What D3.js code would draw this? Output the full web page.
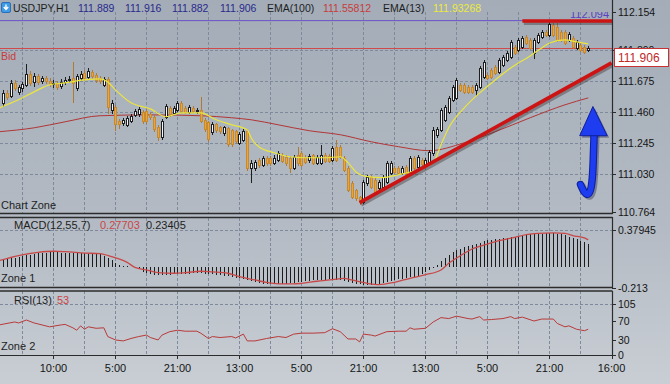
<!DOCTYPE html>
<html><head><meta charset="utf-8">
<script src="https://cdn.jsdelivr.net/npm/d3@7/dist/d3.min.js"></script>
<style>
html,body{margin:0;padding:0;background:#b8bfc7;}
svg{display:block;}
text{font-family:"Liberation Sans",Arial,Helvetica,sans-serif;}
</style></head><body>
<svg id="chart" width="670" height="384"></svg>
<script>
// ---------------- DATA ----------------
const symbol = "USDJPY,H1";
const headerOHLC = ["111.889","111.916","111.882","111.906"];
const ema100Label = "111.55812";
const ema13Label = "111.93268";
const macdLabels = ["0.27703","0.23405"];
const rsiLabel = "53";
const bidPrice = 111.906;
const highPrice = 112.094;

const opens = [111.523,111.592,111.571,111.661,111.599,111.627,111.648,111.724,111.668,111.710,
111.675,111.696,111.675,111.654,111.661,111.641,111.668,111.682,111.696,111.627,
111.696,111.731,111.703,111.738,111.717,111.696,111.648,111.689,111.474,111.495,
111.398,111.384,111.370,111.398,111.439,111.446,111.460,111.467,111.446,111.426,
111.356,111.287,111.426,111.488,111.453,111.474,111.523,111.488,111.460,111.488,
111.467,111.474,111.405,111.391,111.322,111.377,111.356,111.315,111.349,111.335,
111.329,111.245,111.266,111.329,111.072,111.072,111.127,111.093,111.141,111.141,
111.107,111.127,111.162,111.148,111.141,111.072,111.162,111.176,111.148,111.127,
111.162,111.107,111.107,111.162,111.155,111.127,111.218,111.218,111.141,111.072,
110.968,110.919,110.871,110.836,110.968,111.010,110.989,110.933,110.940,110.975,
111.037,111.072,111.072,111.037,111.079,111.044,111.141,111.079,111.127,111.093,
111.107,111.176,111.301,111.335,111.405,111.460,111.544,111.557,111.648,111.648,
111.634,111.634,111.613,111.634,111.703,111.717,111.752,111.772,111.738,111.786,
111.821,111.842,111.911,111.890,111.911,111.980,111.960,111.869,111.946,111.980,
112.015,111.994,112.064,112.050,112.015,112.015,111.960,111.974,111.904,111.925,
111.911,111.889];
const closes = [111.592,111.564,111.661,111.627,111.634,111.654,111.724,111.661,111.710,111.668,
111.696,111.675,111.654,111.661,111.634,111.668,111.682,111.689,111.661,111.710,
111.724,111.696,111.745,111.710,111.682,111.675,111.689,111.495,111.523,111.377,
111.377,111.405,111.419,111.433,111.467,111.481,111.398,111.398,111.426,111.342,
111.287,111.398,111.502,111.446,111.488,111.523,111.467,111.460,111.495,111.467,
111.474,111.398,111.342,111.273,111.377,111.335,111.329,111.356,111.238,111.238,
111.259,111.308,111.329,111.072,111.107,111.114,111.093,111.141,111.107,111.107,
111.141,111.176,111.121,111.107,111.072,111.148,111.107,111.093,111.114,111.155,
111.107,111.148,111.162,111.121,111.121,111.211,111.127,111.148,111.058,110.919,
110.871,110.864,110.836,110.975,111.010,110.940,110.905,110.975,111.010,111.107,
111.107,111.044,111.037,111.072,111.037,111.141,111.072,111.148,111.100,111.127,
111.183,111.335,111.342,111.474,111.495,111.557,111.634,111.682,111.613,111.599,
111.599,111.599,111.648,111.765,111.807,111.696,111.703,111.731,111.821,111.842,
111.869,111.946,111.869,111.960,111.974,111.939,111.904,111.960,111.994,112.015,
111.994,112.071,111.994,111.960,111.960,111.939,112.001,111.911,111.946,111.890,
111.876,111.906];
const highs = [111.613,111.613,111.682,111.682,111.648,111.668,111.793,111.745,111.731,111.724,
111.710,111.710,111.696,111.682,111.675,111.689,111.703,111.710,111.807,111.724,
111.745,111.752,111.765,111.752,111.731,111.710,111.703,111.703,111.544,111.509,
111.412,111.419,111.433,111.446,111.481,111.495,111.474,111.481,111.460,111.439,
111.370,111.412,111.516,111.502,111.502,111.537,111.537,111.502,111.509,111.502,
111.488,111.564,111.419,111.398,111.391,111.384,111.363,111.363,111.356,111.342,
111.335,111.322,111.342,111.342,111.127,111.127,111.141,111.155,111.155,111.155,
111.162,111.190,111.176,111.162,111.155,111.162,111.218,111.190,111.162,111.169,
111.169,111.162,111.231,111.176,111.169,111.225,111.266,111.231,111.155,111.086,
110.982,110.926,110.878,110.989,111.023,111.023,111.003,110.989,111.023,111.121,
111.121,111.086,111.086,111.086,111.093,111.155,111.155,111.162,111.141,111.141,
111.197,111.356,111.356,111.488,111.509,111.571,111.648,111.696,111.661,111.661,
111.648,111.648,111.661,111.779,111.821,111.731,111.765,111.786,111.835,111.856,
111.883,111.960,111.925,111.974,111.987,111.994,111.974,111.974,112.008,112.029,
112.029,112.091,112.078,112.078,112.029,112.029,112.015,111.987,111.960,111.939,
111.925,111.916];
const lows = [111.502,111.550,111.564,111.613,111.585,111.606,111.641,111.648,111.641,111.654,
111.661,111.661,111.641,111.634,111.620,111.627,111.654,111.668,111.530,111.613,
111.682,111.682,111.689,111.696,111.668,111.661,111.641,111.453,111.453,111.335,
111.349,111.370,111.363,111.391,111.433,111.433,111.384,111.384,111.412,111.329,
111.266,111.273,111.419,111.433,111.446,111.467,111.460,111.453,111.453,111.460,
111.453,111.391,111.329,111.259,111.308,111.322,111.315,111.301,111.225,111.225,
111.245,111.238,111.259,111.058,110.975,111.058,111.079,111.086,111.093,111.093,
111.100,111.121,111.114,111.093,111.044,111.065,111.093,111.086,111.107,111.114,
111.100,111.100,111.100,111.114,111.114,111.121,111.121,111.141,111.051,110.912,
110.864,110.850,110.822,110.829,110.954,110.933,110.899,110.926,110.933,110.968,
111.030,111.037,111.030,111.030,111.030,111.037,111.065,111.072,111.093,111.086,
111.100,111.162,111.287,111.329,111.398,111.453,111.537,111.550,111.606,111.592,
111.592,111.592,111.578,111.627,111.696,111.689,111.696,111.724,111.731,111.779,
111.814,111.835,111.863,111.883,111.904,111.932,111.897,111.835,111.939,111.974,
111.987,111.987,111.987,111.953,111.953,111.932,111.953,111.904,111.897,111.883,
111.869,111.882];

// sampled indicator readings: [bar, value]
const ema13 = [[-1,111.488],[4,111.544],[8,111.599],[12,111.648],[16,111.661],[21,111.682],[25,111.689],[27,111.668],[29,111.613],[33,111.523],
[38,111.481],[42,111.426],[46,111.453],[51,111.453],[55,111.405],[59,111.370],[63,111.335],[64,111.280],[66,111.218],[70,111.176],
[74,111.148],[78,111.141],[83,111.141],[87,111.148],[89,111.107],[91,111.044],[94,111.010],[98,111.003],[102,111.023],[107,111.058],
[111,111.107],[113,111.231],[115,111.349],[119,111.488],[123,111.592],[127,111.682],[131,111.765],[136,111.849],[139,111.904],[141,111.939],
[145,111.960],[148,111.946],[151,111.932]];
const ema100 = [[-1,111.322],[8,111.349],[16,111.391],[25,111.433],[38,111.439],[51,111.433],[59,111.419],[64,111.405],[71,111.370],[79,111.329],
[87,111.301],[95,111.252],[102,111.218],[110,111.190],[119,111.245],[127,111.322],[136,111.419],[145,111.509],[151,111.557]];

const macdHist = [0.075,0.082,0.09,0.098,0.105,0.112,0.12,0.128,0.134,0.14,
0.144,0.147,0.15,0.151,0.15,0.148,0.146,0.145,0.143,0.142,
0.141,0.14,0.139,0.137,0.135,0.133,0.118,0.09,0.07,0.04,
0.022,0.014,0.01,0.006,0.004,-0.02,-0.045,-0.06,-0.07,-0.075,
-0.08,-0.08,-0.078,-0.075,-0.072,-0.07,-0.068,-0.066,-0.064,-0.062,
-0.06,-0.062,-0.066,-0.07,-0.072,-0.074,-0.078,-0.085,-0.09,-0.098,
-0.105,-0.112,-0.12,-0.13,-0.14,-0.15,-0.158,-0.165,-0.168,-0.17,
-0.17,-0.17,-0.168,-0.165,-0.16,-0.155,-0.15,-0.145,-0.14,-0.137,
-0.133,-0.13,-0.127,-0.124,-0.121,-0.12,-0.125,-0.13,-0.14,-0.148,
-0.158,-0.165,-0.172,-0.176,-0.176,-0.174,-0.17,-0.165,-0.158,-0.15,
-0.142,-0.133,-0.122,-0.115,-0.108,-0.102,-0.095,-0.085,-0.07,-0.05,
-0.03,-0.01,0.025,0.06,0.095,0.125,0.15,0.172,0.188,0.2,
0.215,0.228,0.24,0.25,0.262,0.272,0.28,0.286,0.29,0.295,
0.3,0.305,0.31,0.318,0.325,0.33,0.333,0.336,0.338,0.34,
0.343,0.344,0.344,0.34,0.332,0.322,0.31,0.298,0.285,0.27,
0.255,0.234];
const macdSignal = [[-1,0.067],[4,0.118],[9,0.151],[13,0.162],[16,0.158],[21,0.144],[25,0.137],[28,0.107],[32,0.05],[34,0.0],
[37,-0.027],[40,-0.054],[44,-0.06],[47,-0.054],[51,-0.04],[54,-0.047],[58,-0.06],[61,-0.095],[65,-0.128],[68,-0.152],
[72,-0.168],[75,-0.168],[77,-0.162],[81,-0.141],[85,-0.125],[88,-0.111],[90,-0.128],[94,-0.162],[97,-0.175],[101,-0.152],
[105,-0.111],[109,-0.075],[113,-0.027],[115,0.04],[118,0.117],[121,0.185],[125,0.235],[128,0.269],[132,0.303],[135,0.33],
[138,0.343],[142,0.347],[145,0.343],[147,0.32],[150,0.296],[151,0.277]];
const rsi = [[-1,62],[1,65],[3,68],[4,66],[6,72],[8,66],[9,64],[12,58],[15,62],[16,63],[18,56],[19,51],[20,60],[21,53],[22,58],[24,55],[26,56],
[27,38],[29,31],[31,29],[33,34],[35,38],[37,41],[38,36],[40,31],[41,41],[43,48],[45,51],[47,49],[50,49],[51,45],[53,34],[54,38],[56,36],
[59,38],[60,35],[62,43],[63,29],[65,29],[68,34],[71,38],[73,36],[75,43],[77,45],[80,45],[83,46],[85,54],[87,48],[89,33],[91,33],[92,27],
[93,43],[95,41],[96,39],[99,48],[102,49],[104,49],[105,56],[106,53],[109,55],[111,68],[113,77],[115,75],[117,80],[120,75],[121,74],[123,79],
[124,72],[126,73],[129,75],[131,79],[132,75],[134,78],[137,70],[139,74],[142,74],[143,65],[145,58],[146,60],[148,53],[150,50],[151,53]];

const priceTicks = [112.154,111.890,111.675,111.460,111.245,111.030,110.764];
const macdTicks = [0.37945,-0.213];
const macdTickLabels = ["0.37945","-0.213"];
const rsiTicks = [105,70,30,0];
const timeLabels = ["10:00","5:00","21:00","13:00","5:00","21:00","13:00","5:00","21:00","16:00"];
const timeLabelBars = [13,29,45,61,77,93,109,125,141,157];

// drawn annotations, in [bar, price]
const trendLine = [[92,110.829],[157,111.800]];
const resistanceLine = [[134,112.091],[157.2,112.091]];
const arrowShaft = [[152.5,111.30],[152.3,111.12],[152.0,110.95],[151.2,110.878],[150.0,110.893],[149.0,110.955]];
const arrowHead = [[152.2,111.497],[148.8,111.294],[155.9,111.294]];

// ---------------- DRAW ----------------
const svg = d3.select('#chart');
const AX = 612;
const x = d3.scaleLinear().domain([0,157]).range([3.1,611.5]);
const yP = d3.scaleLinear().domain([110.764,112.154]).range([212,12]);
const yM = d3.scaleLinear().domain([-0.213,0.37945]).range([288.4,229.7]);
const yR = d3.scaleLinear().domain([0,105]).range([355,304]);
const px = v => Math.round(v)+0.5;
const by = px(yP(bidPrice));

const defs = svg.append('defs');
const g1 = defs.append('linearGradient').attr('id','bg').attr('x1',0).attr('y1',0).attr('x2',0).attr('y2',1);
g1.append('stop').attr('offset','0%').attr('stop-color','#a3acb7');
g1.append('stop').attr('offset','60%').attr('stop-color','#b4bbc4');
g1.append('stop').attr('offset','100%').attr('stop-color','#c9ced4');
defs.append('clipPath').attr('id','clipChart').append('rect').attr('x',0).attr('y',12).attr('width',AX).attr('height',201);
defs.append('clipPath').attr('id','clipMacd').append('rect').attr('x',0).attr('y',219).attr('width',AX).attr('height',68);
defs.append('clipPath').attr('id','clipRsi').append('rect').attr('x',0).attr('y',292).attr('width',AX).attr('height',63);
defs.append('clipPath').attr('id','clipHidden').append('rect').attr('x',AX).attr('y',40).attr('width',58).attr('height',by-40);

svg.append('rect').attr('width',670).attr('height',384).attr('fill','url(#bg)');

const panels = [{top:12,bottom:213},{top:218,bottom:288},{top:291,bottom:355}];
const gridBars = d3.range(5,157,8);
const gridCol = '#7e8a9b';
panels.forEach(p=>{
  svg.append('g').selectAll('line').data(gridBars).join('line')
    .attr('x1',d=>px(x(d))).attr('x2',d=>px(x(d)))
    .attr('y1',p.top).attr('y2',p.bottom)
    .attr('stroke',gridCol).attr('stroke-width',1).attr('stroke-dasharray','3,2');
});
svg.append('g').selectAll('line').data(priceTicks.slice(1,-1)).join('line')
  .attr('x1',0).attr('x2',AX).attr('y1',d=>px(yP(d))).attr('y2',d=>px(yP(d)))
  .attr('stroke',gridCol).attr('stroke-dasharray','3,2');
svg.append('line').attr('x1',0).attr('x2',AX).attr('y1',px(yM(macdTicks[0]))).attr('y2',px(yM(macdTicks[0])))
  .attr('stroke',gridCol).attr('stroke-dasharray','3,2');
svg.append('line').attr('x1',0).attr('x2',AX).attr('y1',px(yR(rsiTicks[0]))).attr('y2',px(yR(rsiTicks[0])))
  .attr('stroke',gridCol).attr('stroke-dasharray','3,2');

// ---- chart zone ----
const cz = svg.append('g').attr('clip-path','url(#clipChart)');
cz.append('line').attr('x1',0).attr('x2',AX).attr('y1',yP(highPrice)).attr('y2',yP(highPrice))
  .attr('stroke','#6a52c8').attr('stroke-width',1);
cz.append('text').attr('x',609).attr('y',yP(highPrice)-3).attr('text-anchor','end')
  .attr('font-size',11).attr('fill','#5b3fc0').text(highPrice.toFixed(3));
cz.append('line').attr('x1',0).attr('x2',AX).attr('y1',by).attr('y2',by)
  .attr('stroke','#cf4a4a').attr('stroke-width',1);
cz.append('text').attr('x',1).attr('y',60).attr('font-size',10.5).attr('fill','#c83c3c').text('Bid');

const lineP = d3.line().x(d=>x(d[0])).y(d=>yP(d[1])).curve(d3.curveMonotoneX);
cz.append('path').attr('d',lineP(ema100)).attr('fill','none').attr('stroke','#b23636').attr('stroke-width',1);

const idx = d3.range(opens.length);
const cg = cz.append('g').attr('shape-rendering','crispEdges');
const cs = cg.selectAll('g').data(idx).join('g');
cs.append('line')
  .attr('x1',i=>Math.round(x(i))+0.5).attr('x2',i=>Math.round(x(i))+0.5)
  .attr('y1',i=>Math.round(yP(highs[i]))).attr('y2',i=>Math.round(yP(lows[i]))+1)
  .attr('stroke',i=>closes[i]>=opens[i]?'#1e1e1e':'#b27a30').attr('stroke-width',1);
cs.append('rect')
  .attr('x',i=>Math.round(x(i))-0.5)
  .attr('y',i=>Math.round(yP(Math.max(opens[i],closes[i])))+0.5)
  .attr('width',2)
  .attr('height',i=>Math.max(1,Math.round(yP(Math.min(opens[i],closes[i])))-Math.round(yP(Math.max(opens[i],closes[i])))))
  .attr('fill',i=>closes[i]>=opens[i]?'#f6f6f6':'#eaa43a')
  .attr('stroke',i=>closes[i]>=opens[i]?'#1e1e1e':'#c88a2e').attr('stroke-width',1);

cz.append('path').attr('d',lineP(ema13)).attr('fill','none').attr('stroke','#ebe63c').attr('stroke-width',1.2);

const lineS = d3.line().x(d=>x(d[0])).y(d=>yP(d[1]));
[resistanceLine, trendLine].forEach(L=>{
  cz.append('path').attr('d',lineS(L)).attr('transform','translate(1.5,2)')
    .attr('fill','none').attr('stroke','rgba(40,30,30,0.35)').attr('stroke-width',4);
  cz.append('path').attr('d',lineS(L)).attr('fill','none').attr('stroke','#cc1414').attr('stroke-width',3.6);
});

const lineA = d3.line().x(d=>x(d[0])).y(d=>yP(d[1])).curve(d3.curveBasis);
const headPath = d3.line().x(d=>x(d[0])).y(d=>yP(d[1])).curve(d3.curveLinearClosed);
cz.append('path').attr('d',lineA(arrowShaft)).attr('transform','translate(2,2)').attr('fill','none')
  .attr('stroke','rgba(20,20,60,0.35)').attr('stroke-width',7).attr('stroke-linecap','round');
cz.append('path').attr('d',headPath(arrowHead)).attr('transform','translate(2,2)').attr('fill','rgba(20,20,60,0.35)');
cz.append('path').attr('d',lineA(arrowShaft)).attr('fill','none')
  .attr('stroke','#0d1f9a').attr('stroke-width',7.5).attr('stroke-linecap','round');
cz.append('path').attr('d',lineA(arrowShaft)).attr('fill','none')
  .attr('stroke','#1e3cf0').attr('stroke-width',5.5).attr('stroke-linecap','round');
cz.append('path').attr('d',headPath(arrowHead)).attr('fill','#1e3cf0').attr('stroke','#0d1f9a').attr('stroke-width',1);

svg.append('text').attr('x',1).attr('y',208.5).attr('font-size',11).attr('fill','#1e1e1e').text('Chart Zone');

// ---- MACD ----
const mz = svg.append('g').attr('clip-path','url(#clipMacd)');
mz.append('g').attr('shape-rendering','crispEdges').selectAll('line').data(idx).join('line')
  .attr('x1',i=>Math.round(x(i))+0.5).attr('x2',i=>Math.round(x(i))+0.5)
  .attr('y1',yM(0)).attr('y2',i=>yM(macdHist[i]))
  .attr('stroke','#1c1c1c').attr('stroke-width',1);
const lineM = d3.line().x(d=>x(d[0])).y(d=>yM(d[1])).curve(d3.curveMonotoneX);
mz.append('path').attr('d',lineM(macdSignal)).attr('fill','none').attr('stroke','#c84848').attr('stroke-width',1.3);
svg.append('text').attr('x',14).attr('y',229).attr('font-size',11).attr('fill','#1e1e1e').text('MACD(12,55,7)');
svg.append('text').attr('x',100).attr('y',229).attr('font-size',11).attr('fill','#cc4444').text(macdLabels[0]);
svg.append('text').attr('x',146).attr('y',229).attr('font-size',11).attr('fill','#1e1e1e').text(macdLabels[1]);
svg.append('text').attr('x',1).attr('y',282).attr('font-size',11).attr('fill','#1e1e1e').text('Zone 1');

// ---- RSI ----
const rz = svg.append('g').attr('clip-path','url(#clipRsi)');
const lineR = d3.line().x(d=>x(d[0])).y(d=>yR(d[1]));
rz.append('path').attr('d',lineR(rsi)).attr('fill','none').attr('stroke','#b83a3a').attr('stroke-width',1);
svg.append('text').attr('x',14).attr('y',304).attr('font-size',11).attr('fill','#1e1e1e').text('RSI(13)');
svg.append('text').attr('x',57).attr('y',304).attr('font-size',11).attr('fill','#cc4444').text(rsiLabel);
svg.append('text').attr('x',1).attr('y',350).attr('font-size',11).attr('fill','#1e1e1e').text('Zone 2');

// ---- panel borders ----
const bcol = '#2c2c2c';
[[213.5,1.5],[217.5,1.5],[287.5,1.5],[291,1.5],[355.5,1]].forEach(([y,w])=>{
  svg.append('line').attr('x1',0).attr('x2',AX+0.5).attr('y1',y).attr('y2',y).attr('stroke',bcol).attr('stroke-width',w);
});
[[0,214],[217,288],[291,356]].forEach(([a,b])=>{
  svg.append('line').attr('x1',AX+0.5).attr('x2',AX+0.5).attr('y1',a).attr('y2',b).attr('stroke',bcol).attr('stroke-width',1.2);
});

// ---- right axes ----
const axG = svg.append('g').attr('font-size',10.5).attr('fill','#151515');
function rightTicks(vals, labels, scale){
  vals.forEach((v,k)=>{
    const yy = scale(v);
    axG.append('line').attr('x1',AX).attr('x2',AX+4).attr('y1',px(yy)).attr('y2',px(yy)).attr('stroke',bcol);
    const t = axG.append('text').attr('x',AX+6).attr('y',yy+4).text(labels[k]);
    // the tick label that sits under the bid box is only partly visible
    if (yy+4 > by && yy-6 < by+18) t.attr('clip-path','url(#clipHidden)');
  });
}
rightTicks(priceTicks, priceTicks.map(d=>d.toFixed(3)), yP);
rightTicks(macdTicks, macdTickLabels, yM);
rightTicks(rsiTicks, rsiTicks.map(String), yR);

// bid box
svg.append('rect').attr('x',AX+2.5).attr('y',by).attr('width',54).attr('height',18)
  .attr('fill','#ffffff').attr('stroke','#c83232').attr('stroke-width',1);
svg.append('text').attr('x',AX+6).attr('y',by+13.5).attr('font-size',12).attr('fill','#c02828').text(bidPrice.toFixed(3));

// ---- time axis ----
const tg = svg.append('g');
timeLabelBars.forEach((b,k)=>{
  tg.append('line').attr('x1',px(x(b))).attr('x2',px(x(b))).attr('y1',355).attr('y2',359).attr('stroke',bcol);
  tg.append('text').attr('x',x(b)).attr('y',372).attr('text-anchor','middle').attr('font-size',11).attr('fill','#151515').text(timeLabels[k]);
});

// ---- header ----
const hd = svg.append('g').attr('font-size',10.5);
hd.append('rect').attr('x',1.5).attr('y',2.5).attr('width',9).attr('height',10).attr('rx',1.5)
  .attr('fill','#3f9be6').attr('stroke','#2a70b8');
hd.append('path').attr('d','M6,4.5 L6,9 M3.8,7 L6,9.5 L8.2,7').attr('stroke','#fff').attr('stroke-width',1.4).attr('fill','none');
hd.append('text').attr('x',13).attr('y',12).attr('fill','#1e1e1e').text(symbol);
[78,125,172,220].forEach((xx,k)=>hd.append('text').attr('x',xx).attr('y',12).attr('fill','#2a2a8c').text(headerOHLC[k]));
hd.append('text').attr('x',267).attr('y',12).attr('fill','#1e1e1e').text('EMA(100)');
hd.append('text').attr('x',323).attr('y',12).attr('fill','#c83c3c').text(ema100Label);
hd.append('text').attr('x',383).attr('y',12).attr('fill','#1e1e1e').text('EMA(13)');
hd.append('text').attr('x',433).attr('y',12).attr('fill','#ecea3e').text(ema13Label);
</script></body></html>
